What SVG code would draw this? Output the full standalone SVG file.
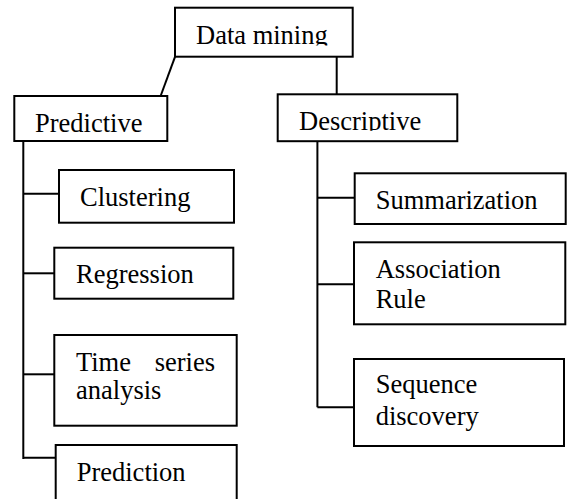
<svg xmlns="http://www.w3.org/2000/svg" width="567" height="499" viewBox="0 0 567 499">
<style>
.box{fill:#fff;stroke:#000;stroke-width:2}
.t{font-family:"Liberation Serif","Times New Roman",serif;font-size:26.5px;fill:#000}
.c{stroke:#000;stroke-width:2;fill:none}
</style>
<defs>
<clipPath id="clipDM"><rect x="175" y="7" width="180" height="38.5"/></clipPath>
<clipPath id="clipDesc"><rect x="278" y="94" width="181" height="36.8"/></clipPath>
</defs>
<rect width="567" height="499" fill="#fff"/>
<g id="connectors">
<line class="c" x1="175" y1="56.8" x2="160.8" y2="95.5"/>
<line class="c" x1="336.7" y1="56.8" x2="336.7" y2="94.3"/>
<line class="c" x1="23.3" y1="141" x2="23.3" y2="459"/>
<line class="c" x1="23.3" y1="193.7" x2="59" y2="193.7"/>
<line class="c" x1="23.3" y1="273.3" x2="54.3" y2="273.3"/>
<line class="c" x1="23.3" y1="374.3" x2="54.3" y2="374.3"/>
<line class="c" x1="23.3" y1="457.7" x2="55.7" y2="457.7"/>
<line class="c" x1="317.4" y1="141" x2="317.4" y2="407.3"/>
<line class="c" x1="317.4" y1="197.7" x2="354.7" y2="197.7"/>
<line class="c" x1="317.4" y1="284.3" x2="354" y2="284.3"/>
<line class="c" x1="317.4" y1="407.3" x2="354" y2="407.3"/>
</g>
<g id="data-mining">
<rect class="box" x="175" y="7.7" width="177.7" height="49"/>
<text class="t" x="196" y="44.3" clip-path="url(#clipDM)">Data mining</text>
</g>
<g id="predictive">
<rect class="box" x="14.3" y="96" width="153" height="45"/>
<text class="t" x="35" y="131.5">Predictive</text>
</g>
<g id="descriptive">
<rect class="box" x="277.7" y="94.3" width="179.6" height="46.9"/>
<text class="t" x="299" y="129.8" clip-path="url(#clipDesc)">Descriptive</text>
</g>
<g id="clustering">
<rect class="box" x="59" y="170" width="175" height="52.7"/>
<text class="t" x="80" y="205.7">Clustering</text>
</g>
<g id="regression">
<rect class="box" x="54.3" y="247.7" width="179" height="51"/>
<text class="t" x="76" y="282.7">Regression</text>
</g>
<g id="time-series">
<rect class="box" x="54.3" y="335" width="182.4" height="90.7"/>
<text class="t" x="76" y="370.7">Time</text>
<text class="t" x="215" y="370.7" text-anchor="end">series</text>
<text class="t" x="76" y="399">analysis</text>
</g>
<g id="prediction">
<rect class="box" x="55.7" y="445" width="181" height="70"/>
<text class="t" x="76.7" y="481">Prediction</text>
</g>
<g id="summarization">
<rect class="box" x="354.7" y="173.3" width="211" height="50.7"/>
<text class="t" x="375.7" y="209.3">Summarization</text>
</g>
<g id="association-rule">
<rect class="box" x="354" y="242.3" width="211.3" height="82"/>
<text class="t" x="375.7" y="278.3">Association</text>
<text class="t" x="375.7" y="308.3">Rule</text>
</g>
<g id="sequence-discovery">
<rect class="box" x="354" y="359" width="210" height="87"/>
<text class="t" x="375.7" y="392.7">Sequence</text>
<text class="t" x="375.7" y="425">discovery</text>
</g>
</svg>
